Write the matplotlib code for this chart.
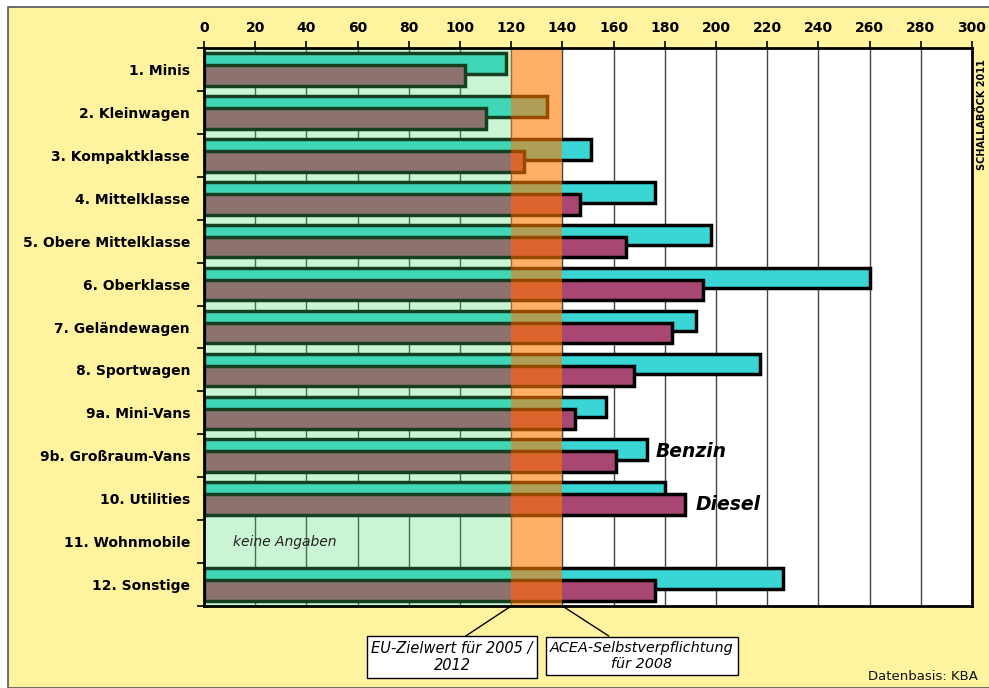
import matplotlib
matplotlib.use("Agg")
import matplotlib.pyplot as plt
from matplotlib.patches import Rectangle
import numpy as np

plt.rcParams['font.family'] = ['DejaVu Sans']

# CO2-Emissionen (g/km) nach Fahrzeugsegment
categories = ["1. Minis", "2. Kleinwagen", "3. Kompaktklasse", "4. Mittelklasse",
              "5. Obere Mittelklasse", "6. Oberklasse", "7. Geländewagen",
              "8. Sportwagen", "9a. Mini-Vans", "9b. Großraum-Vans",
              "10. Utilities", "11. Wohnmobile", "12. Sonstige"]
benzin = [118, 134, 151, 176, 198, 260, 192, 217, 157, 173, 180, None, 226]
diesel = [102, 110, 125, 147, 165, 195, 183, 168, 145, 161, 188, None, 176]
xticks = list(range(0, 301, 20))
eu_target = 120
acea_target = 140

W, H = 989, 688
fig = plt.figure(figsize=(W / 100, H / 100), dpi=100)
fig.patch.set_facecolor("white")

# yellow panel behind the chart
panel = Rectangle((8 / W, 0), 1.0, 1 - 7 / H, transform=fig.transFigure,
                  facecolor="#FFF39F", edgecolor="#555555", linewidth=1.2,
                  zorder=-5)
fig.patches.append(panel)

ax = fig.add_axes([204 / W, 82 / H, 768 / W, 558 / H])
ax.set_facecolor("white")

n = len(categories)
y = np.arange(n)
off = 0.14
h = 0.48
cyan = "#3AD6D6"
magenta = "#A84872"

for i in range(n):
    if benzin[i] is not None:
        ax.barh(y[i] - off, benzin[i], height=h, color=cyan, edgecolor="black",
                linewidth=2.5, zorder=2)
    if diesel[i] is not None:
        ax.barh(y[i] + off, diesel[i], height=h, color=magenta, edgecolor="black",
                linewidth=2.5, zorder=3)

# target bands
ax.axvspan(0, eu_target, color=(79 / 255, 220 / 255, 110 / 255), alpha=0.29,
           lw=0, zorder=4)
ax.axvspan(eu_target, acea_target, color=(1.0, 122 / 255, 0.0), alpha=0.6,
           lw=0, zorder=4)

ax.set_xlim(0, 300)
ax.set_ylim(n - 0.5, -0.5)
ax.xaxis.tick_top()
ax.set_xticks(xticks)
ax.set_xticklabels([str(t) for t in xticks], fontsize=10, fontweight="bold")
ax.tick_params(axis="x", length=5, width=1.2, pad=4, color="black")
ax.grid(axis="x", color="#444444", linewidth=1.0, zorder=1)
ax.set_axisbelow(True)

ax.set_yticks(y)
ax.set_yticklabels(categories, fontsize=10, fontweight="bold")
ax.tick_params(axis="y", length=0, pad=10)
ax.set_yticks(np.arange(-0.5, n, 1.0), minor=True)
ax.tick_params(axis="y", which="minor", length=5, width=1.2, color="black")

for s in ax.spines.values():
    s.set_linewidth(2)
    s.set_color("black")
    s.set_zorder(6)

ax.text(11.3, 11, "keine Angaben", fontsize=10, fontstyle="italic",
        va="center", ha="left", color="#222222", zorder=5)
ax.text(176.5, 9 - off + 0.05, "Benzin", fontsize=13.5, fontweight="bold",
        fontstyle="italic", va="center", ha="left", zorder=5)
ax.text(192, 10 + off, "Diesel", fontsize=13.5, fontweight="bold",
        fontstyle="italic", va="center", ha="left", zorder=5)

box = dict(boxstyle="square,pad=0.3", facecolor="white", edgecolor="black",
           linewidth=1)
ax.annotate("EU-Zielwert für 2005 /\n2012", xy=(eu_target, n - 0.5),
            xytext=(452 / W, 1 - 657 / H), textcoords="figure fraction",
            ha="center", va="center", fontsize=10.5, fontstyle="italic",
            bbox=box, annotation_clip=False,
            arrowprops=dict(arrowstyle="-", color="black", lw=1,
                            relpos=(0.54, 1.0), shrinkA=0, shrinkB=0))
ax.annotate("ACEA-Selbstverpflichtung\nfür 2008", xy=(acea_target, n - 0.5),
            xytext=(642 / W, 1 - 656 / H), textcoords="figure fraction",
            ha="center", va="center", fontsize=10.4, fontstyle="italic",
            bbox=box, annotation_clip=False,
            arrowprops=dict(arrowstyle="-", color="black", lw=1,
                            relpos=(0.36, 1.0), shrinkA=0, shrinkB=0))

fig.text(978 / W, 1 - 676 / H, "Datenbasis: KBA", ha="right", va="center",
         fontsize=9.5, color="#111111")
fig.text(982 / W, 1 - 115 / H, "SCHALLABÖCK 2011", rotation=90, ha="center",
         va="center", fontsize=7, fontweight="bold")

fig.savefig("out.png", dpi=100, facecolor=fig.get_facecolor())
